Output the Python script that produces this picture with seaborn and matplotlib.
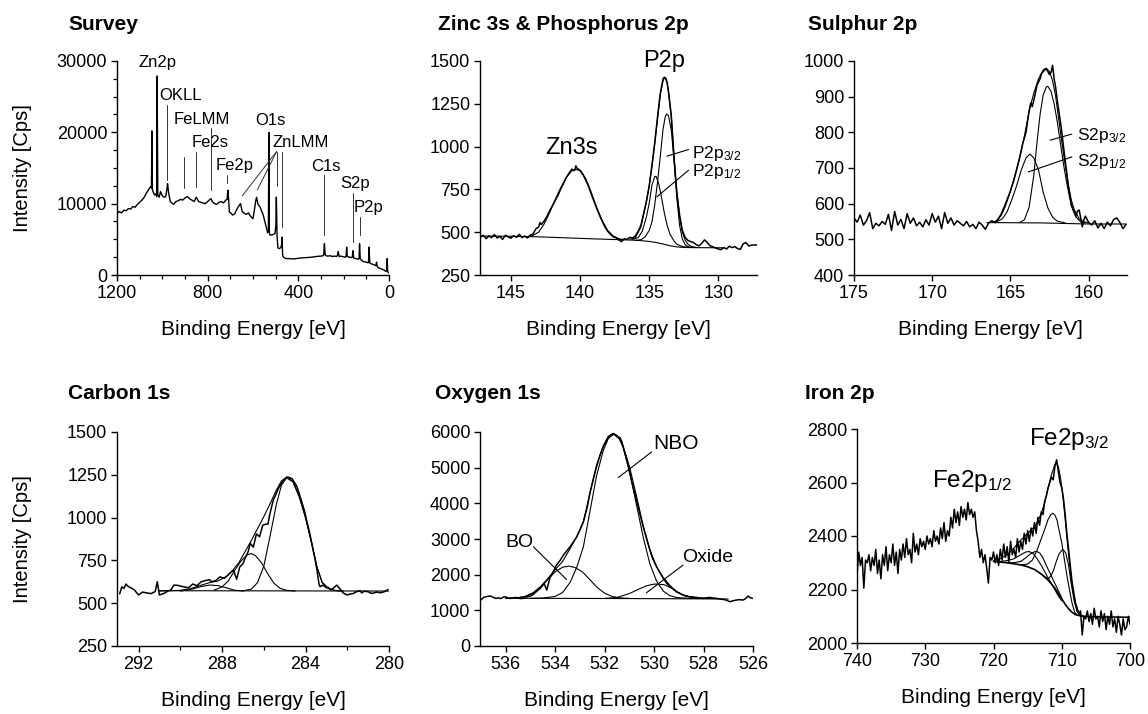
import matplotlib
matplotlib.use("Agg")
import matplotlib.pyplot as plt
import seaborn as sns
from matplotlib.ticker import MultipleLocator

sns.set_theme(style="ticks")
plt.rcParams['font.family'] = ['Liberation Sans', 'DejaVu Sans']
plt.rcParams['mathtext.fontset'] = 'custom'
plt.rcParams['mathtext.rm'] = 'Liberation Sans'
plt.rcParams['mathtext.it'] = 'Liberation Sans:italic'
plt.rcParams['text.color'] = 'black'
plt.rcParams['axes.labelcolor'] = 'black'
plt.rcParams['xtick.color'] = 'black'
plt.rcParams['ytick.color'] = 'black'
plt.rcParams['axes.edgecolor'] = 'black'

# ---------------- DATA ----------------
# Survey (binding energy eV, counts)
survey_be = [1200, 1190, 1180, 1170, 1160, 1150, 1140, 1130, 1120, 1110, 1100, 1090, 1080, 1070, 1060, 1052,
             1048, 1046, 1044, 1040, 1034, 1028, 1025, 1023, 1020, 1014, 1008, 1000, 992, 985, 980, 977, 972,
             965, 958, 950, 940, 930, 920, 910, 900, 890, 880, 870, 860, 850, 845, 840, 830, 820, 810, 800,
             790, 785, 780, 770, 760, 750, 740, 730, 720, 714, 711, 708, 704, 698, 690, 680, 670, 660, 655,
             648, 640, 630, 620, 610, 600, 593, 588, 584, 578, 570, 562, 555, 548, 540, 535, 532, 530, 528,
             525, 518, 510, 503, 499, 497, 494, 490, 485, 478, 474, 472, 469, 465, 455, 440, 420, 400, 380,
             360, 340, 320, 300, 292, 288, 285, 282, 278, 270, 260, 250, 240, 232, 228, 224, 220, 212, 200,
             192, 189, 187, 184, 176, 168, 162, 159, 156, 150, 144, 136, 132, 130, 127, 122, 114, 106, 100,
             92, 90, 88, 85, 80, 72, 64, 58, 55, 52, 46, 38, 30, 22, 14, 10, 8, 6, 4, 2, 0]
survey_cps = [8600, 8900, 8700, 9100, 9000, 9300, 9250, 9600, 9500, 9900, 10200, 10500, 10900, 11500, 12000, 12400,
              12200, 20200, 12000, 11600, 11200, 11400, 11000, 27900, 11200, 10900, 11700, 11100, 10900, 11000, 12000, 12800, 11500,
              10300, 10100, 9900, 10300, 10400, 10600, 10500, 10800, 11000, 10700, 10500, 10300, 10900, 10600, 10300, 10200, 10100, 10000, 10300,
              10600, 10700, 10300, 10000, 9900, 10200, 10300, 10100, 10500, 10600, 11900, 10800, 8800, 8700, 8400, 8600, 9300, 9800, 10000,
              8900, 8700, 8500, 8700, 8200, 7900, 9300, 10400, 10900, 9900, 9600, 9000, 8400, 7500, 6500, 5900, 6300, 20000, 6000,
              5600, 5600, 5700, 5800, 7000, 10900, 5500, 3800, 3700, 3800, 4200, 5300, 2700, 2500, 2300, 2300, 2250, 2350, 2400,
              2450, 2500, 2600, 2650, 2700, 2800, 4400, 2900, 2700, 2650, 2700, 2600, 2650, 2600, 2700, 3300, 2600, 2650, 2550,
              2500, 2700, 3900, 2600, 2500, 2450, 2500, 3400, 2400, 2300, 2300, 2200, 2300, 4400, 2300, 2100, 1900, 1850, 1800,
              1700, 2000, 3900, 1700, 1600, 1500, 1400, 1300, 1800, 1200, 1000, 900, 800, 700, 500, 600, 2300, 500, 400, 300, 300]

survey_labels = ["Zn2p", "OKLL", "FeLMM", "Fe2s", "Fe2p", "O1s", "ZnLMM", "C1s", "S2p", "P2p"]
survey_label_x = [1106, 1014, 951, 870, 766, 589, 515, 345, 216, 154]
survey_label_y = [29200, 24530, 21170, 17900, 14720, 21030, 17900, 14630, 12150, 8880]
# marker lines: (x, y_top, y_bottom)
survey_marks_x = [980, 905, 852, 787, 713, 471, 286, 161, 130]
survey_marks_top = [23830, 16590, 17290, 20560, 14020, 17290, 14020, 11540, 8180]
survey_marks_bot = [13320, 12150, 12380, 11920, 12850, 6780, 5610, 4670, 5610]
znlmm_origin = (496, 17290)
znlmm_targets_x = [648, 581, 496]
znlmm_targets_y = [11075, 11920, 12480]

# Zinc 3s & Phosphorus 2p
zp_raw = [(147.2,470),(147.0,482),(146.8,462),(146.6,478),(146.4,468),(146.2,486),(146.0,466),(145.8,476),(145.6,458),
          (145.4,482),(145.2,472),(145.0,465),(144.8,480),(144.6,470),(144.4,488),(144.2,468),(144.0,478),(143.8,466),
          (143.6,484),(143.4,490),(143.2,520),(143.0,530),(142.9,556),(142.8,545),(142.6,565),(142.4,592),(142.2,625),
          (142.0,655),(141.8,685),(141.6,715),(141.4,752),(141.2,785),(141.0,818),(140.8,845),(140.6,868),(140.4,860),
          (140.3,888),(140.2,872),(140.0,862),(139.8,840),(139.6,805),(139.4,770),(139.2,725),(139.0,682),(138.8,640),
          (138.6,600),(138.4,565),(138.2,530),(138.0,505),(137.8,488),(137.6,472),(137.4,468),(137.2,455),(137.0,445),
          (136.8,462),(136.6,458),(136.4,470),(136.2,466),(136.0,478),(135.8,505),(135.6,540),(135.4,610),(135.2,680),
          (135.0,770),(134.8,890),(134.6,1020),(134.4,1170),(134.2,1310),(134.0,1395),(133.9,1405),(133.8,1400),
          (133.7,1375),(133.6,1320),(133.4,1180),(133.2,930),(133.0,730),(132.8,600),(132.6,510),(132.4,470),
          (132.2,452),(132.0,445),(131.8,440),(131.6,428),(131.4,420),(131.2,435),(131.0,455),(130.8,440),(130.6,420),
          (130.4,415),(130.2,408),(130.0,402),(129.8,398),(129.6,410),(129.4,402),(129.2,418),(129.0,410),(128.8,416),
          (128.6,404),(128.4,400),(128.2,432),(128.0,440),(127.8,420),(127.6,424),(127.4,426),(127.2,425)]
zp_bkg = [(147.2,478),(145.0,476),(143.0,473),(141.0,467),(139.0,461),(137.0,456),(136.0,453),(135.5,450),(135.0,446),
          (134.5,440),(134.0,431),(133.5,421),(133.0,414),(132.5,411),(132.0,410),(130.0,409),(129.6,409)]
zn3s_fit = [(143.8,474),(143.4,482),(143.0,500),(142.6,548),(142.2,615),(141.8,690),(141.4,760),(141.0,820),(140.6,858),
            (140.3,868),(140.0,858),(139.6,815),(139.2,735),(138.8,645),(138.4,568),(138.0,510),(137.6,478),(137.2,462),(136.8,456)]
p2p_env = [(136.4,458),(136.0,468),(135.6,530),(135.4,605),(135.2,680),(135.0,770),(134.8,885),(134.6,1015),(134.4,1160),
           (134.2,1300),(134.0,1385),(133.9,1400),(133.8,1395),(133.7,1370),(133.6,1315),(133.4,1175),(133.2,940),(133.0,735),
           (132.8,590),(132.6,500),(132.4,455),(132.2,430),(132.0,418),(131.6,411)]
p2p32 = [(136.0,452),(135.6,456),(135.3,472),(135.0,510),(134.8,560),(134.6,660),(134.4,790),(134.2,940),(134.0,1100),
         (133.85,1170),(133.75,1190),(133.6,1180),(133.4,1095),(133.2,920),(133.0,700),(132.8,540),(132.6,460),(132.4,428),
         (132.2,416),(132.0,411)]
p2p12 = [(136.2,458),(135.8,468),(135.5,505),(135.2,590),(135.0,668),(134.8,775),(134.6,825),(134.5,826),(134.3,780),
         (134.1,700),(133.9,610),(133.7,540),(133.5,490),(133.2,448),(133.0,430),(132.6,416),(132.2,412)]

# Sulphur 2p
s_raw = [(175.0,560),(174.8,548),(174.6,568),(174.4,540),(174.2,552),(174.0,575),(173.8,530),(173.6,545),(173.4,538),
         (173.2,550),(173.0,542),(172.8,570),(172.6,525),(172.4,578),(172.2,540),(172.0,556),(171.8,530),(171.6,572),
         (171.4,545),(171.2,560),(171.0,538),(170.8,548),(170.6,535),(170.4,555),(170.2,540),(170.0,572),(169.8,548),
         (169.6,565),(169.4,530),(169.2,575),(169.0,545),(168.8,560),(168.6,540),(168.4,552),(168.2,545),(168.0,538),
         (167.8,550),(167.6,535),(167.4,542),(167.2,530),(167.0,548),(166.8,540),(166.6,528),(166.4,545),(166.2,552),
         (166.0,548),(165.8,555),(165.6,570),(165.4,590),(165.2,612),(165.0,635),(164.8,662),(164.6,695),(164.4,730),
         (164.2,770),(164.0,800),(163.8,860),(163.7,882),(163.6,872),(163.5,890),(163.4,910),(163.3,932),(163.1,950),
         (163.0,965),(162.8,975),(162.7,978),(162.6,970),(162.5,962),(162.4,968),(162.3,988),(162.2,950),(162.1,925),
         (162.0,890),(161.9,860),(161.8,830),(161.7,797),(161.6,760),(161.5,722),(161.4,690),(161.3,650),(161.2,625),
         (161.1,595),(161.0,585),(160.9,575),(160.8,565),(160.7,580),(160.6,582),(160.5,560),(160.4,535),(160.3,555),
         (160.2,565),(160.0,548),(159.8,540),(159.6,552),(159.4,532),(159.2,545),(159.0,530),(158.8,548),(158.6,538),
         (158.4,555),(158.2,560),(158.0,548),(157.8,530),(157.6,542)]
s_bkg = [(166.5,547),(163.0,546),(160.0,543),(157.6,543)]
s_env = [(166.0,548),(165.6,565),(165.3,595),(165.0,635),(164.7,680),(164.4,730),(164.1,790),(163.8,860),(163.5,910),
         (163.2,950),(162.9,975),(162.7,980),(162.5,970),(162.3,945),(162.1,900),(161.9,835),(161.7,770),(161.5,710),
         (161.3,655),(161.1,610),(160.9,582),(160.6,558),(160.3,549),(160.0,546)]
s2p12 = [(166.0,546),(165.5,558),(165.2,578),(164.9,612),(164.6,650),(164.3,695),(164.0,728),(163.75,739),(163.5,728),
         (163.2,695),(162.9,632),(162.6,588),(162.3,562),(162.0,551),(161.5,546)]
s2p32 = [(164.4,547),(164.1,555),(163.8,590),(163.5,680),(163.3,770),(163.1,850),(162.9,905),(162.7,927),(162.6,929),
         (162.4,915),(162.2,880),(162.0,830),(161.8,770),(161.6,710),(161.4,660),(161.2,615),(161.0,583),(160.8,562),
         (160.5,549),(160.2,546)]

# Carbon 1s
c_raw = [(292.9,555),(292.8,596),(292.7,586),(292.6,612),(292.5,598),(292.4,592),(292.3,585),(292.2,578),(292.0,548),
         (291.8,565),(291.6,560),(291.4,556),(291.2,568),(291.1,625),(291.0,548),(290.8,556),(290.6,570),(290.45,578),
         (290.3,606),(290.1,604),(290.0,600),(289.8,595),(289.6,590),(289.4,612),(289.2,602),(289.0,625),(288.8,632),
         (288.6,638),(288.5,625),(288.3,632),(288.1,654),(287.9,645),(287.75,660),(287.6,678),(287.45,693),(287.3,640),
         (287.15,712),(287.0,730),(286.9,760),(286.75,800),(286.65,850),(286.5,828),(286.35,905),(286.2,888),(286.05,955),
         (285.9,962),(285.8,962),(285.7,1025),(285.55,1100),(285.4,1140),(285.3,1170),(285.15,1200),(285.05,1218),
         (284.9,1237),(284.8,1235),(284.65,1228),(284.5,1200),(284.4,1178),(284.2,1100),(284.05,1040),(283.95,985),
         (283.8,910),(283.7,849),(283.55,760),(283.45,693),(283.35,610),(283.3,596),(283.2,605),(283.1,600),(283.0,590),
         (282.9,592),(282.8,578),(282.65,590),(282.5,606),(282.4,590),(282.3,577),(282.2,560),(282.0,548),(281.9,552),
         (281.7,557),(281.6,565),(281.4,573),(281.3,560),(281.2,570),(281.0,567),(280.9,560),(280.8,557),(280.6,565),
         (280.4,561),(280.2,568),(280.05,580)]
c_bkg = [(291.0,573),(280.0,571)]
c_env = [(291.0,571),(290.0,575),(289.5,585),(289.0,605),(288.6,620),(288.2,630),(287.8,655),(287.5,690),(287.2,735),
         (286.9,800),(286.6,865),(286.3,935),(286.0,1005),(285.7,1080),(285.4,1160),(285.15,1215),(284.9,1236),
         (284.6,1212),(284.3,1125),(284.0,1002),(283.7,850),(283.45,712),(283.2,622),(282.9,587),(282.6,575),(282.2,571)]
c_main = [(287.0,572),(286.6,582),(286.3,620),(286.0,715),(285.7,890),(285.4,1075),(285.15,1190),(284.9,1232),(284.6,1208),
          (284.3,1120),(284.0,1000),(283.7,848),(283.45,710),(283.2,620),(282.9,585),(282.6,574),(282.2,571)]
c_second = [(288.4,575),(288.0,595),(287.7,630),(287.4,690),(287.1,745),(286.8,782),(286.6,790),(286.4,778),(286.1,735),
            (285.8,670),(285.5,615),(285.2,586),(284.9,575),(284.5,571)]
c_third = [(290.0,571),(289.5,580),(289.0,597),(288.6,606),(288.2,603),(287.8,590),(287.4,576),(287.0,571)]

# Oxygen 1s
o_raw = [(537.0,1290),(536.9,1360),(536.8,1381),(536.7,1395),(536.6,1400),(536.5,1360),(536.4,1334),(536.3,1350),
         (536.2,1330),(536.1,1370),(536.0,1381),(535.9,1340),(535.8,1334),(535.7,1350),(535.6,1362),(535.5,1345),
         (535.4,1330),(535.3,1334),(535.2,1370),(535.1,1385),(535.0,1400),(534.9,1440),(534.8,1500),(534.7,1560),
         (534.6,1620),(534.5,1700),(534.45,1754),(534.34,1568),(534.2,1941),(534.1,2050),(533.95,2267),(533.8,2400),
         (533.67,2547),(533.55,2650),(533.4,2781),(533.3,2880),(533.13,3061),(533.0,3250),(532.86,3480),(532.7,3900),
         (532.6,4274),(532.45,4700),(532.33,5020),(532.2,5320),(532.06,5580),(531.95,5720),(531.85,5841),(531.75,5920),
         (531.65,5953),(531.55,5920),(531.52,5906),(531.45,5860),(531.38,5841),(531.3,5720),(531.25,5580),(531.1,5220),
         (530.98,4834),(530.85,4460),(530.71,4087),(530.58,3720),(530.44,3341),(530.3,3000),(530.17,2687),(530.05,2440),
         (529.9,2221),(529.75,2040),(529.63,1894),(529.5,1770),(529.36,1661),(529.2,1580),(529.1,1521),(528.95,1470),
         (528.83,1428),(528.7,1400),(528.56,1381),(528.4,1370),(528.29,1362),(528.15,1345),(528.02,1334),(527.9,1350),
         (527.75,1362),(527.6,1340),(527.48,1334),(527.35,1320),(527.21,1306),(527.1,1290),(526.94,1241),(526.8,1270),
         (526.67,1288),(526.55,1300),(526.4,1288),(526.3,1330),(526.2,1400),(526.1,1350),(526.0,1334)]
o_bkg = [(535.6,1338),(531.0,1330),(527.0,1318)]
o_env = [(536.0,1336),(535.5,1355),(535.2,1395),(534.9,1490),(534.6,1660),(534.3,1890),(534.0,2140),(533.7,2370),
         (533.44,2680),(533.13,3060),(532.86,3480),(532.6,4270),(532.33,5060),(532.06,5610),(531.85,5880),(531.63,5960),
         (531.4,5830),(531.25,5600),(530.98,4990),(530.71,4200),(530.44,3370),(530.17,2700),(529.9,2220),(529.63,1920),
         (529.36,1700),(529.1,1530),(528.8,1420),(528.5,1370),(528.0,1340),(527.5,1335)]
o_nbo = [(535.0,1335),(534.5,1345),(534.0,1390),(533.7,1500),(533.4,1780),(533.13,2200),(532.86,2780),(532.6,3750),
         (532.33,4760),(532.06,5470),(531.85,5820),(531.63,5935),(531.4,5800),(531.25,5560),(530.98,4850),(530.71,3950),
         (530.44,3050),(530.17,2300),(529.9,1820),(529.63,1540),(529.36,1410),(529.1,1360),(528.6,1338),(528.0,1335)]
o_bo = [(536.0,1335),(535.5,1350),(535.2,1390),(534.9,1480),(534.6,1640),(534.3,1860),(534.0,2080),(533.7,2210),
        (533.44,2240),(533.2,2200),(532.9,2080),(532.6,1860),(532.3,1640),(532.0,1480),(531.7,1390),(531.4,1350),(531.0,1335)]
o_oxide = [(532.0,1335),(531.5,1360),(531.0,1470),(530.6,1600),(530.3,1690),(530.0,1735),(529.9,1736),(529.6,1720),
           (529.3,1630),(529.0,1490),(528.7,1400),(528.4,1355),(528.0,1336)]

# Iron 2p
fe_raw_be = [740.00, 739.75, 739.50, 739.25, 739.00, 738.75, 738.50, 738.25, 738.00, 737.75, 737.50, 737.25, 737.00,
             736.75, 736.50, 736.25, 736.00, 735.75, 735.50, 735.25, 735.00, 734.75, 734.50, 734.25, 734.00, 733.75,
             733.50, 733.25, 733.00, 732.75, 732.50, 732.25, 732.00, 731.75, 731.50, 731.25, 731.00, 730.75, 730.50,
             730.25, 730.00, 729.75, 729.50, 729.25, 729.00, 728.75, 728.50, 728.25, 728.00, 727.75, 727.50, 727.25,
             727.00, 726.75, 726.50, 726.25, 726.00, 725.75, 725.50, 725.25, 725.00, 724.75, 724.50, 724.25, 724.00,
             723.75, 723.50, 723.25, 723.00, 722.75, 722.50, 722.25, 722.00, 721.75, 721.50, 721.25, 721.00, 720.75,
             720.50, 720.25, 720.00, 719.75, 719.50, 719.25, 719.00, 718.75, 718.50, 718.25, 718.00, 717.75, 717.50,
             717.25, 717.00, 716.75, 716.50, 716.25, 716.00, 715.75, 715.50, 715.25, 715.00, 714.75, 714.50, 714.25,
             714.00, 713.75, 713.50, 713.25, 713.00, 712.75, 712.50, 712.25, 712.00, 711.75, 711.50, 711.25, 711.00,
             710.75, 710.50, 710.25, 710.00, 709.75, 709.50, 709.25, 709.00, 708.75, 708.50, 708.25, 708.00, 707.75,
             707.50, 707.25, 707.00, 706.75, 706.50, 706.25, 706.00, 705.75, 705.50, 705.25, 705.00, 704.75, 704.50,
             704.25, 704.00, 703.75, 703.50, 703.25, 703.00, 702.75, 702.50, 702.25, 702.00, 701.75, 701.50, 701.25,
             701.00, 700.75, 700.50, 700.25, 700.00]
fe_raw_cps = [2250, 2340, 2290, 2320, 2205, 2310, 2300, 2330, 2270, 2320, 2290, 2350, 2260,
              2310, 2240, 2330, 2290, 2360, 2270, 2330, 2300, 2370, 2290, 2340, 2260, 2350,
              2310, 2370, 2320, 2390, 2330, 2350, 2300, 2410, 2340, 2370, 2330, 2390, 2360,
              2380, 2350, 2400, 2370, 2390, 2360, 2420, 2380, 2400, 2370, 2430, 2390, 2450,
              2380, 2420, 2400, 2470, 2430, 2500, 2450, 2490, 2440, 2510, 2470, 2500, 2460,
              2525, 2480, 2500, 2470, 2490, 2420, 2380, 2320, 2350, 2300, 2330, 2280, 2224,
              2320, 2310, 2340, 2300, 2330, 2290, 2350, 2310, 2370, 2320, 2360, 2300, 2380,
              2330, 2350, 2320, 2390, 2340, 2380, 2350, 2410, 2370, 2420, 2380, 2430, 2400,
              2450, 2410, 2470, 2440, 2490, 2480, 2530, 2550, 2580, 2600, 2620, 2610, 2660,
              2685, 2640, 2600, 2580, 2540, 2480, 2410, 2350, 2290, 2230, 2190, 2150, 2130,
              2110, 2120, 2030, 2100, 2090, 2120, 2080, 2110, 2070, 2130, 2090, 2100, 2060,
              2120, 2080, 2110, 2050, 2100, 2070, 2120, 2060, 2090, 2040, 2100, 2070, 2030,
              2090, 2050, 2060, 2100, 2070]
fe_bkg = [(720.0,2305),(718.0,2300),(716.0,2292),(715.0,2285),(714.0,2275),(713.0,2258),(712.0,2235),(711.0,2205),
          (710.0,2165),(709.5,2145),(709.0,2128),(708.5,2115),(708.0,2106),(707.0,2100),(705.0,2098),(700.0,2096)]
fe_env = [(720.0,2307),(719.0,2315),(718.0,2330),(717.0,2355),(716.0,2385),(715.0,2410),(714.0,2435),(713.5,2455),
          (713.0,2485),(712.5,2525),(712.0,2580),(711.5,2630),(711.0,2668),(710.8,2675),(710.5,2660),(710.2,2620),
          (709.9,2565),(709.6,2490),(709.3,2410),(709.0,2330),(708.7,2260),(708.4,2200),(708.0,2150),(707.6,2118),
          (707.2,2105),(706.8,2100)]
fe_compA = [(716.0,2292),(715.0,2295),(714.3,2310),(713.6,2348),(713.0,2390),(712.5,2425),(712.0,2462),(711.6,2480),
            (711.3,2485),(711.0,2478),(710.7,2460),(710.3,2410),(710.0,2375),(709.6,2310),(709.2,2245),(708.8,2190),
            (708.5,2150),(708.1,2115),(707.7,2104),(707.0,2100)]
fe_compB = [(713.0,2258),(712.5,2248),(712.0,2240),(711.6,2250),(711.2,2272),(710.8,2305),(710.4,2333),(710.0,2346),
            (709.75,2348),(709.4,2335),(709.0,2290),(708.6,2220),(708.2,2160),(707.8,2120),(707.4,2105),(707.0,2100)]
fe_compC = [(718.0,2300),(717.0,2300),(716.0,2305),(715.3,2318),(714.6,2333),(714.0,2341),(713.65,2342),(713.2,2336),
            (712.8,2320),(712.4,2298),(712.0,2276),(711.6,2255),(711.2,2232),(710.8,2212),(710.4,2190),(710.0,2168)]
fe_compD = [(719.0,2305),(718.0,2308),(717.0,2315),(716.0,2330),(715.3,2340),(714.8,2342),(714.2,2335),(713.6,2315),
            (713.0,2290),(712.4,2262),(711.8,2235),(711.2,2208),(710.6,2180),(710.0,2158)]

# ---------------- FIGURE ----------------
fig = plt.figure(figsize=(11.48, 7.14), dpi=100)
W, H = 1148, 714

def make_ax(l, r, t, b):
    return fig.add_axes([l / W, 1 - b / H, (r - l) / W, (b - t) / H])

axs = [make_ax(117, 389, 61, 275), make_ax(480, 757, 61, 275), make_ax(854, 1127, 61, 275),
       make_ax(117, 389, 432, 646), make_ax(480, 753, 432, 646), make_ax(857, 1130, 429, 643)]

def draw(ax, x, y, lw=0.9):
    sns.lineplot(x=list(x), y=list(y), ax=ax, color='black', linewidth=lw, sort=False,
                 estimator=None, legend=False)

def draw_pairs(ax, pairs, lw=0.9):
    xs, ys = zip(*pairs)
    draw(ax, xs, ys, lw)

RAW_LW = 1.1
FIT_LW = 0.8

# Survey
ax = axs[0]
draw(ax, survey_be, survey_cps, 1.0)
for x, yt, yb in zip(survey_marks_x, survey_marks_top, survey_marks_bot):
    ax.plot([x, x], [yb, yt], color='#333333', lw=0.7)
for tx, ty in zip(znlmm_targets_x, znlmm_targets_y):
    ax.plot([znlmm_origin[0], tx], [znlmm_origin[1], ty], color='#333333', lw=0.7)
for lab, lx, ly in zip(survey_labels, survey_label_x, survey_label_y):
    ax.text(lx, ly, lab, fontsize=12, ha='left', va='baseline', clip_on=False)
ax.set_xlim(1200, 0)
ax.set_ylim(0, 30000)
ax.xaxis.set_major_locator(MultipleLocator(400))
ax.xaxis.set_minor_locator(MultipleLocator(100))
ax.yaxis.set_major_locator(MultipleLocator(10000))
ax.yaxis.set_minor_locator(MultipleLocator(2500))

# Zn3s & P2p
ax = axs[1]
draw_pairs(ax, zp_raw, RAW_LW)
draw_pairs(ax, zp_bkg, FIT_LW)
draw_pairs(ax, zn3s_fit, FIT_LW)
draw_pairs(ax, p2p_env, FIT_LW)
draw_pairs(ax, p2p32, FIT_LW)
draw_pairs(ax, p2p12, FIT_LW)
ax.text(142.54, 955, "Zn3s", fontsize=17, ha='left', va='baseline')
ax.text(135.41, 1465, "P2p", fontsize=17, ha='left', va='baseline', clip_on=False)
ax.text(131.91, 936, r"P2p$_\mathregular{3/2}$", fontsize=12.5, ha='left', va='baseline')
ax.text(131.91, 827, r"P2p$_\mathregular{1/2}$", fontsize=12.5, ha='left', va='baseline')
ax.plot([133.72, 132.15], [944, 983], color='black', lw=0.8)
ax.plot([134.44, 132.15], [707, 862], color='black', lw=0.8)
ax.set_xlim(147.24, 127.2)
ax.set_ylim(250, 1500)
ax.xaxis.set_major_locator(MultipleLocator(5))
ax.yaxis.set_major_locator(MultipleLocator(250))

# Sulphur
ax = axs[2]
draw_pairs(ax, s_raw, RAW_LW)
draw_pairs(ax, s_bkg, FIT_LW)
draw_pairs(ax, s_env, FIT_LW)
draw_pairs(ax, s2p12, FIT_LW)
draw_pairs(ax, s2p32, FIT_LW)
ax.text(160.75, 778, r"S2p$_\mathregular{3/2}$", fontsize=12.5, ha='left', va='baseline')
ax.text(160.75, 706, r"S2p$_\mathregular{1/2}$", fontsize=12.5, ha='left', va='baseline')
ax.plot([162.46, 161.07], [778, 795], color='black', lw=0.8)
ax.plot([163.85, 161.07], [689, 731], color='black', lw=0.8)
ax.set_xlim(175, 157.54)
ax.set_ylim(400, 1000)
ax.xaxis.set_major_locator(MultipleLocator(5))
ax.yaxis.set_major_locator(MultipleLocator(100))

# Carbon
ax = axs[3]
draw_pairs(ax, c_raw, RAW_LW)
draw_pairs(ax, c_bkg, FIT_LW)
draw_pairs(ax, c_env, FIT_LW)
draw_pairs(ax, c_main, FIT_LW)
draw_pairs(ax, c_second, FIT_LW)
draw_pairs(ax, c_third, FIT_LW)
ax.set_xlim(293.03, 280)
ax.set_ylim(250, 1500)
ax.xaxis.set_major_locator(MultipleLocator(4))
ax.xaxis.set_minor_locator(MultipleLocator(2))
ax.yaxis.set_major_locator(MultipleLocator(250))

# Oxygen
ax = axs[4]
draw_pairs(ax, o_raw, RAW_LW)
draw_pairs(ax, o_bkg, FIT_LW)
draw_pairs(ax, o_env, FIT_LW)
draw_pairs(ax, o_nbo, FIT_LW)
draw_pairs(ax, o_bo, FIT_LW)
draw_pairs(ax, o_oxide, FIT_LW)
ax.text(530.04, 5515, "NBO", fontsize=15, ha='left', va='baseline')
ax.text(536.03, 2781, "BO", fontsize=14, ha='left', va='baseline')
ax.text(528.85, 2361, "Oxide", fontsize=14, ha='left', va='baseline')
ax.plot([531.45, 530.1], [4722, 5440], color='black', lw=0.8)
ax.plot([534.88, 533.54], [2781, 1866], color='black', lw=0.8)
ax.plot([528.83, 530.31], [2267, 1493], color='black', lw=0.8)
ax.set_xlim(537.04, 526)
ax.set_ylim(0, 6000)
ax.xaxis.set_major_locator(MultipleLocator(2))
ax.yaxis.set_major_locator(MultipleLocator(1000))

# Iron
ax = axs[5]
draw(ax, fe_raw_be, fe_raw_cps, RAW_LW)
draw_pairs(ax, fe_bkg, 1.2)
draw_pairs(ax, fe_env, FIT_LW)
draw_pairs(ax, fe_compA, FIT_LW)
draw_pairs(ax, fe_compB, FIT_LW)
draw_pairs(ax, fe_compC, FIT_LW)
draw_pairs(ax, fe_compD, FIT_LW)
ax.text(729.01, 2585, r"Fe2p$_\mathregular{1/2}$", fontsize=17.5, ha='left', va='baseline')
ax.text(714.85, 2740, r"Fe2p$_\mathregular{3/2}$", fontsize=17.5, ha='left', va='baseline')
ax.set_xlim(740, 700)
ax.set_ylim(2000, 2800)
ax.xaxis.set_major_locator(MultipleLocator(10))
ax.yaxis.set_major_locator(MultipleLocator(200))

for i, ax in enumerate(axs):
    sns.despine(ax=ax)
    for s in ('left', 'bottom'):
        ax.spines[s].set_linewidth(1.0)
        ax.spines[s].set_color('black')
    ax.tick_params(axis='both', which='major', direction='out', length=4, width=1.0,
                   labelsize=13, colors='black', labelcolor='black', pad=3)
    ax.tick_params(axis='both', which='minor', direction='out', length=3, width=0.9, colors='black')
    ax.set_xlabel("Binding Energy [eV]", fontsize=15, color='black')
    ax.xaxis.set_label_coords(0.5, -0.21)
    if i in (0, 3):
        ax.set_ylabel("Intensity [Cps]", fontsize=14.5, color='black')
        ax.yaxis.set_label_coords(-0.3125, 0.5)
    else:
        ax.set_ylabel("")
    ax.set_facecolor('white')

titles = ["Survey", "Zinc 3s & Phosphorus 2p", "Sulphur 2p", "Carbon 1s", "Oxygen 1s", "Iron 2p"]
title_x = [68, 438, 808, 68, 435, 805]
title_y = [30, 30, 30, 399, 399, 399]
for t, tx, ty in zip(titles, title_x, title_y):
    fig.text(tx / W, 1 - ty / H, t, fontsize=15, fontweight='bold', ha='left', va='baseline', color='black')

fig.savefig("out.png", dpi=100, facecolor='white')
